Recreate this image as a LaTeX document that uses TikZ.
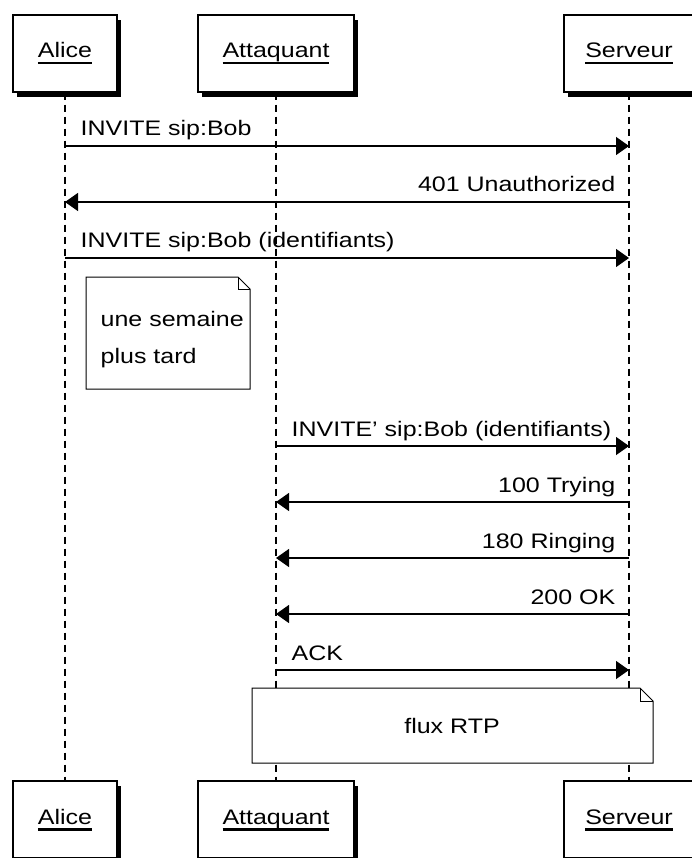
\documentclass[tikz,border=0pt]{standalone}
\usepackage{fontspec}
\setmainfont{Liberation Sans}[FakeStretch=1.19]
\usepackage{tikz}
\usetikzlibrary{positioning,shadows,arrows.meta}

\newcommand\actorname[1]{\sbox0{#1}\rlap{\rule[-6.5pt]{\wd0}{2.2pt}}\usebox0}

\begin{document}
\begin{tikzpicture}[x=1pt, y=-1pt, line width=1.4pt,
    actor/.style = {draw, fill=white, minimum height=77pt, inner sep=0pt,
        text height=16pt, text depth=7pt,
        drop shadow={shadow xshift=4pt, shadow yshift=-5pt, fill=black, opacity=1},
        font=\fontsize{21}{25}\selectfont},
    life/.style = {line width=1.2pt, dash pattern=on 7pt off 5pt},
    msg/.style = {-{Triangle[length=13pt, width=18pt]}},
    rlbl/.style = {pos=0, anchor=base west, xshift=15pt, yshift=10pt, inner sep=0pt,
        font=\fontsize{21}{25}\selectfont},
    llbl/.style = {pos=0, anchor=base east, xshift=-13pt, yshift=10pt, inner sep=0pt,
        font=\fontsize{21}{25}\selectfont},
    note/.style = {draw, fill=white, line width=1pt}]
    \useasboundingbox (0,0) rectangle (692,858);

    % participants
    \node[actor, minimum width=104pt] (alice) at (65,53.5) {\actorname{Alice}};
    \node[actor, minimum width=156pt] (att) at (276,53.5) {\actorname{Attaquant}};
    \node[actor, minimum width=130pt] (serv) at (629,53.5) {\actorname{Serveur}};
    \node[actor, minimum width=104pt] (alice2) at (65,819.5) {\actorname{Alice}};
    \node[actor, minimum width=156pt] (att2) at (276,819.5) {\actorname{Attaquant}};
    \node[actor, minimum width=130pt] (serv2) at (629,819.5) {\actorname{Serveur}};

    \draw[life] (alice) -- (alice2);
    \draw[life] (att) -- (att2);
    \draw[life] (serv) -- (serv2);

    % message ends on the lifelines
    \coordinate (a1) at (65,146);  \coordinate (s1) at (629,146);
    \coordinate (a2) at (65,202);  \coordinate (s2) at (629,202);
    \coordinate (a3) at (65,258);  \coordinate (s3) at (629,258);
    \coordinate (t4) at (276,446); \coordinate (s4) at (629,446);
    \coordinate (t5) at (276,502); \coordinate (s5) at (629,502);
    \coordinate (t6) at (276,558); \coordinate (s6) at (629,558);
    \coordinate (t7) at (276,614); \coordinate (s7) at (629,614);
    \coordinate (t8) at (276,670); \coordinate (s8) at (629,670);

    \draw[msg] (a1) -- node[rlbl] {INVITE sip:Bob} (s1);
    \draw[msg] (s2) -- node[llbl] {401 Unauthorized} (a2);
    \draw[msg] (a3) -- node[rlbl] {INVITE sip:Bob (identifiants)} (s3);
    \draw[msg] (t4) -- node[rlbl] {INVITE' sip:Bob (identifiants)} (s4);
    \draw[msg] (s5) -- node[llbl] {100 Trying} (t5);
    \draw[msg] (s6) -- node[llbl] {180 Ringing} (t6);
    \draw[msg] (s7) -- node[llbl] {200 OK} (t7);
    \draw[msg] (t8) -- node[rlbl] {ACK} (s8);

    % notes
    \draw[note] (86,277) -- (238,277) -- (250,289) -- (250,389) -- (86,389) -- cycle;
    \draw[line width=1pt] (238,277) -- (238,289) -- (250,289);
    \node[anchor=north west, align=left, inner sep=0pt, font=\fontsize{21}{37}\selectfont]
        (later) at (100,311) {une semaine\\plus tard};

    \draw[note] (252,688) -- (640,688) -- (653,701) -- (653,763) -- (252,763) -- cycle;
    \draw[line width=1pt] (640,688) -- (640,701) -- (653,701);
    \node[font=\fontsize{21}{25}\selectfont] (rtp) at (452,726) {flux RTP};
\end{tikzpicture}
\end{document}
